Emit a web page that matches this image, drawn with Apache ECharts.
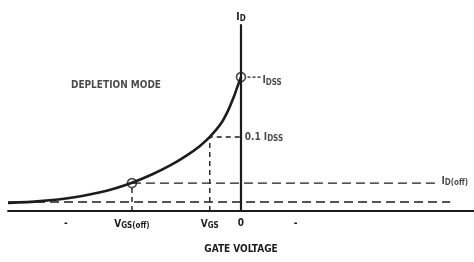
<!DOCTYPE html>
<html>
<head>
<meta charset="utf-8">
<script src="https://cdn.jsdelivr.net/npm/echarts@6/dist/echarts.min.js"></script>
<style>
  html, body { margin: 0; padding: 0; background: #fff; }
  #chart { width: 474px; height: 262px; }
</style>
</head>
<body>
<div id="chart"></div>
<script>
// transfer curve (gate voltage vs drain current)
const curveX = [-5, -4.31, -3.61, -2.88, -2.34, -1.89, -1.52, -1.17, -0.88, -0.67, -0.43, -0.27, -0.16, -0.08, 0]
const curveY = [0.43, 0.53, 0.73, 1.09, 1.52, 1.99, 2.45, 2.98, 3.50, 3.98, 4.70, 5.44, 6.10, 6.66, 7.2]

const vgsOff = -2.34
const vgs = -0.67
const idss = 7.2
const idssTenth = 3.98
const idOff = 1.5
const leakLevel = 0.48

const tickValues = [-3.76, -2.34, -0.67, 0, 1.17]
const tickLabels = ['-', '{v|V}{s|GS(off)}', '{v|V}{s|GS}', '{v|0}', '-']

const ink = '#1c1c1c'
const font = "'DejaVu Sans Condensed', 'Liberation Sans Narrow', sans-serif"
const rich = {
  v: { fontFamily: font, fontSize: 10, fontWeight: 'bold', color: ink },
  s: { fontFamily: font, fontSize: 8, fontWeight: 'bold', color: ink, verticalAlign: 'bottom', padding: [4, 0, 0, 0] },
}

const dashed = (data, type) => ({
  type: 'line', data, symbol: 'none', silent: true,
  lineStyle: { color: ink, width: 1.4, type: type || [7, 4] },
})

const c = echarts.init(document.getElementById('chart'))
c.setOption({
  animation: false,
  grid: { left: 8, right: 0, top: 25, bottom: 51 },
  xAxis: {
    type: 'value', min: -5, max: 5,
    name: 'GATE VOLTAGE', nameLocation: 'middle', nameGap: 33,
    nameTextStyle: { fontFamily: font, fontSize: 10, fontWeight: 'bold', color: ink },
    axisLine: { show: true, lineStyle: { color: ink, width: 1.8 } },
    axisTick: { show: false },
    splitLine: { show: false },
    axisLabel: {
      customValues: tickValues, margin: 7,
      fontFamily: font, fontSize: 10, fontWeight: 'bold', color: ink, rich,
      formatter: v => {
        const i = tickValues.findIndex(t => Math.abs(t - v) < 1e-6)
        return i < 0 ? '' : tickLabels[i]
      },
    },
  },
  yAxis: {
    type: 'value', min: 0, max: 10,
    name: '{v|I}{s|D}', nameGap: 2, nameTextStyle: { rich },
    axisLine: { show: true, onZero: true, lineStyle: { color: ink, width: 2.2 } },
    axisTick: { show: false },
    axisLabel: { show: false },
    splitLine: { show: false },
  },
  series: [
    dashed([[-5, leakLevel], [4.49, leakLevel]], [9, 5]),
    dashed([[vgsOff, idOff], [4.27, idOff]], [9, 5]),
    dashed([[vgsOff, 0], [vgsOff, idOff]], [5, 4]),
    dashed([[vgs, 0], [vgs, idssTenth], [0, idssTenth]], [5, 4]),
    dashed([[0.14, idss], [0.42, idss]], [3, 2]),
    {
      type: 'line', symbol: 'none', smooth: 0.3, silent: true,
      data: curveX.map((x, i) => [x, curveY[i]]),
      lineStyle: { color: ink, width: 2.6 },
    },
    {
      type: 'scatter', symbol: 'circle', symbolSize: 9, silent: true,
      itemStyle: { color: 'rgba(255,255,255,0)', borderColor: ink, borderWidth: 1.6 },
      data: [[vgsOff, idOff], [0, idss]],
    },
    {
      type: 'scatter', symbolSize: 0, silent: true,
      label: { show: true, position: 'right', distance: 0, color: ink, rich, formatter: p => p.data.t },
      data: [
        { value: [0.46, idss - 0.2], t: '{v|I}{s|DSS}' },
        { value: [0.08, idssTenth], t: '{v|0.1 I}{s|DSS}' },
        { value: [4.3, idOff + 0.1], t: '{v|I}{s|D(off)}' },
        { value: [-3.65, 6.75], t: '{v|DEPLETION MODE}' },
      ],
    },
  ],
})
</script>
</body>
</html>
